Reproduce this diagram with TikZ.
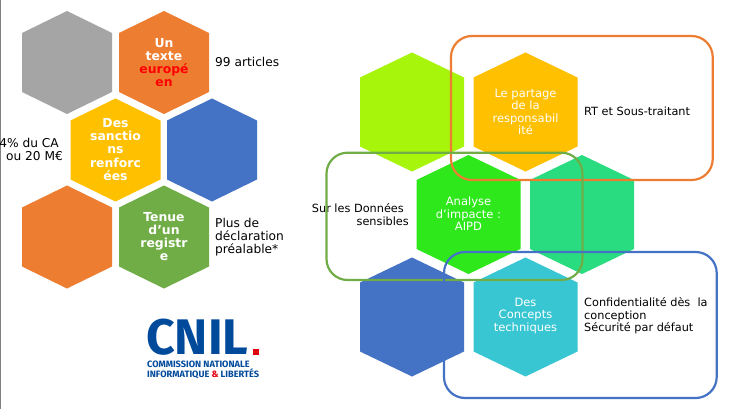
\documentclass[tikz,border=0pt]{standalone}
\usepackage{fontspec}
\setmainfont{DejaVu Sans}
\newfontfamily\logofont{Fira Sans}
\definecolor{cgray}{HTML}{A5A5A5}
\definecolor{corange}{HTML}{ED7D31}
\definecolor{cyellow}{HTML}{FFC000}
\definecolor{cblue}{HTML}{4472C4}
\definecolor{cgreen}{HTML}{70AD47}
\definecolor{clime}{HTML}{A6F50A}
\definecolor{cbright}{HTML}{2EE81C}
\definecolor{cmint}{HTML}{2ADC80}
\definecolor{cteal}{HTML}{38C6D2}
\definecolor{cnilblue}{HTML}{004A9C}
\definecolor{cnilred}{HTML}{E1000F}
\newcommand{\hexL}[3]{\fill[#3] (#1-45,#2-29.5) -- (#1,#2-51.5) -- (#1+45,#2-29.5) -- (#1+45,#2+29.5) -- (#1,#2+51.5) -- (#1-45,#2+29.5) -- cycle;}
\newcommand{\hexR}[3]{\fill[#3] (#1-52,#2-34.5) -- (#1,#2-59.5) -- (#1+52,#2-34.5) -- (#1+52,#2+34.5) -- (#1,#2+59.5) -- (#1-52,#2+34.5) -- cycle;}
\tikzset{
  boldtxt/.style={text=white,font=\fontsize{12.4}{13.2}\selectfont\bfseries,align=center,inner sep=0pt},
  lighttxt/.style={text=white,font=\fontsize{11.5}{12.5}\selectfont,align=center,inner sep=0pt},
  sidetxt/.style={text=black,font=\fontsize{12.2}{13}\selectfont,align=left,inner sep=0pt,anchor=west},
  sidetxtsm/.style={text=black,font=\fontsize{11.3}{12.5}\selectfont,align=left,inner sep=0pt,anchor=west},
  frame/.style={line width=2.2pt,rounded corners=21pt}
}
\begin{document}
\begin{tikzpicture}[x=1pt,y=-1pt]
\useasboundingbox (0,0) rectangle (736,409);
\fill[white] (0,0) rectangle (736,409);
\fill[gray] (0,0) rectangle (1,409);
% left hexagons
\hexL{67}{62.5}{cgray}
\hexL{164}{62.5}{corange}
\hexL{115.5}{150}{cyellow}
\hexL{212}{150}{cblue}
\hexL{67}{237}{corange}
\hexL{164}{237}{cgreen}
% right hexagons
\hexR{412}{112}{clime}
\hexR{525.5}{112}{cyellow}
\hexR{468.5}{214.5}{cbright}
\hexR{582}{214.5}{cmint}
\hexR{412}{317}{cblue}
\hexR{525.5}{317}{cteal}
% hexagon labels
\node[boldtxt] (t1) at (164,62.5) {Un\\texte\\\textcolor{red}{europé}\\\textcolor{red}{en}};
\node[boldtxt] (t2) at (115.5,149.5) {Des\\sanctio\\ns\\renforc\\ées};
\node[boldtxt] (t3) at (164,236.5) {Tenue\\d’un\\registr\\e};
\node[lighttxt] (t4) at (525.5,112) {Le partage\\de la\\responsabil\\ité};
\node[lighttxt] (t5) at (468.5,214) {Analyse\\d’impacte :\\AIPD};
\node[lighttxt] (t6) at (525.5,316) {Des\\Concepts\\techniques};
% side labels
\node[sidetxt] (s1) at (215,61.5) {99 articles};
\node[text=black,font=\fontsize{12.2}{13}\selectfont,align=right,inner sep=0pt,anchor=east] (s2) at (63,149) {4\% du CA\hspace*{4pt}\\ou 20 M€};
\node[sidetxt] (s3) at (215,237) {Plus de\\déclaration\\préalable*};
\node[sidetxtsm] (s4) at (584,111) {RT et Sous-traitant};
\node[text=black,font=\fontsize{11.3}{12.5}\selectfont,align=right,inner sep=0pt,anchor=east] (s5) at (409,214.5) {Sur les Données\hspace*{5pt}\\sensibles};
\node[sidetxtsm] (s6) at (584,316) {Confidentialité dès~~la\\conception\\Sécurité par défaut};
% frames
\draw[frame,color=corange] (451,36) rectangle (712.7,180);
\draw[frame,color=cgreen] (326.5,152.7) rectangle (582.5,280);
\draw[frame,color=cblue] (444,252) rectangle (716.7,398);
% logo
\node[inner sep=0pt,anchor=base west,text=cnilblue,font=\logofont\fontsize{50}{50}\selectfont\bfseries] (logo) at (146,354.5) {CNIL};
\fill[cnilred] (252.5,348.7) rectangle (259,354.5);
\node[inner sep=0pt,anchor=west,text=cnilblue,font=\logofont\fontsize{9.2}{10}\selectfont\bfseries,align=left] (sub) at (147,369.5) {COMMISSION NATIONALE\\INFORMATIQUE \textcolor{cnilred}{\&} LIBERTÉS};
\end{tikzpicture}
\end{document}
